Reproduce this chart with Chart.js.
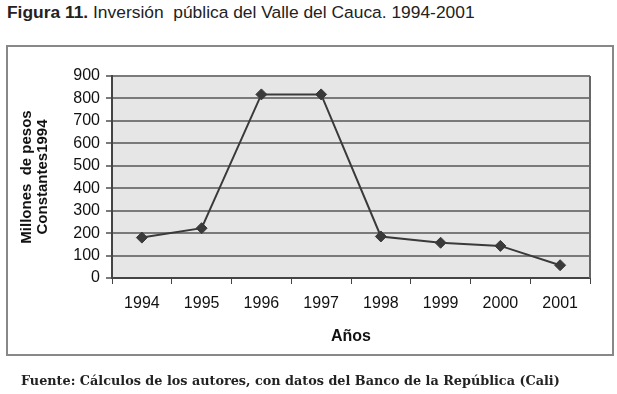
<!DOCTYPE html>
<html>
<head>
<meta charset="utf-8">
<script src="https://cdn.jsdelivr.net/npm/chart.js@4/dist/chart.umd.min.js"></script>
<style>
  html, body { margin: 0; padding: 0; background: #fff; }
  #wrap { position: relative; width: 617px; height: 394px; overflow: hidden; }
  #title { position: absolute; left: 7px; top: 2px; font-family: "Liberation Sans", Arial, sans-serif; font-size: 17.4px; color: #222; white-space: nowrap; }
  #title b { font-weight: bold; }
  #box { position: absolute; left: 6px; top: 45px; width: 604px; height: 307px; border: 2px solid #888; }
  #footer { position: absolute; left: 21px; top: 373px; font-family: "DejaVu Serif", "Liberation Serif", serif; font-weight: bold; font-size: 12.8px; color: #222; white-space: nowrap; }
  #cv { position: absolute; left: 0; top: 0; }
</style>
</head>
<body>
<div id="wrap">
  <div id="title"><b>Figura 11.</b> Inversión&nbsp; pública del Valle del Cauca. 1994-2001</div>
  <div id="box"></div>
  <canvas id="cv" width="617" height="394"></canvas>
  <div id="footer">Fuente: Cálculos de los autores, con datos del Banco de la República (Cali)</div>
</div>
<script>
const years = ["1994", "1995", "1996", "1997", "1998", "1999", "2000", "2001"];
const inversion = [180, 222, 818, 818, 185, 157, 143, 57];
const yTitle = ["Millones  de pesos", "Constantes1994"];
const xTitle = "Años";

const plotBg = {
  id: 'plotBg',
  beforeDraw(chart) {
    const { ctx, chartArea: a } = chart;
    ctx.save();
    ctx.fillStyle = '#e6e6e6';
    ctx.fillRect(a.left, a.top, a.right - a.left, a.bottom - a.top);
    ctx.restore();
  },
  afterDatasetsDraw(chart) {
    const { ctx, chartArea: a } = chart;
    ctx.save();
    ctx.strokeStyle = '#666';
    ctx.lineWidth = 2;
    ctx.beginPath();
    ctx.moveTo(a.right, a.top);
    ctx.lineTo(a.right, a.bottom);
    ctx.stroke();
    ctx.restore();
  }
};

new Chart(document.getElementById('cv'), {
  type: 'line',
  data: {
    labels: years,
    datasets: [{
      data: inversion,
      borderColor: '#3a3a3a',
      borderWidth: 2,
      backgroundColor: '#3a3a3a',
      pointStyle: 'rectRot',
      pointRadius: 5.5,
      pointBorderWidth: 1,
      tension: 0,
      fill: false
    }]
  },
  options: {
    responsive: false,
    animation: false,
    events: [],
    layout: { padding: { left: 0, top: 76, right: 27, bottom: 48 } },
    plugins: { legend: { display: false }, tooltip: { enabled: false } },
    scales: {
      x: {
        offset: true,
        afterFit(s) { s.height = 68; },
        grid: { offset: true, drawOnChartArea: false, drawTicks: true, tickLength: 6, color: '#444', lineWidth: 1 },
        border: { color: '#444', width: 2 },
        ticks: { color: '#111', padding: 10, font: { family: 'Liberation Sans, Arial', size: 16 } },
        title: { display: true, text: xTitle, color: '#111', padding: { top: 0, bottom: 0 }, font: { family: 'Liberation Sans, Arial', size: 16, weight: 'bold' } }
      },
      y: {
        min: 0, max: 900,
        afterFit(s) { s.width = 112; },
        ticks: { stepSize: 100, color: '#111', padding: 6, font: { family: 'Liberation Sans, Arial', size: 16 } },
        grid: { color: '#7a7a7a', lineWidth: 2, tickLength: 6 },
        border: { color: '#444', width: 2 },
        title: { display: true, text: yTitle, color: '#111', padding: { top: 19, bottom: 0 }, font: { family: 'Liberation Sans, Arial', size: 15, weight: 'bold', lineHeight: 1.05 } }
      }
    }
  },
  plugins: [plotBg]
});
</script>
</body>
</html>
